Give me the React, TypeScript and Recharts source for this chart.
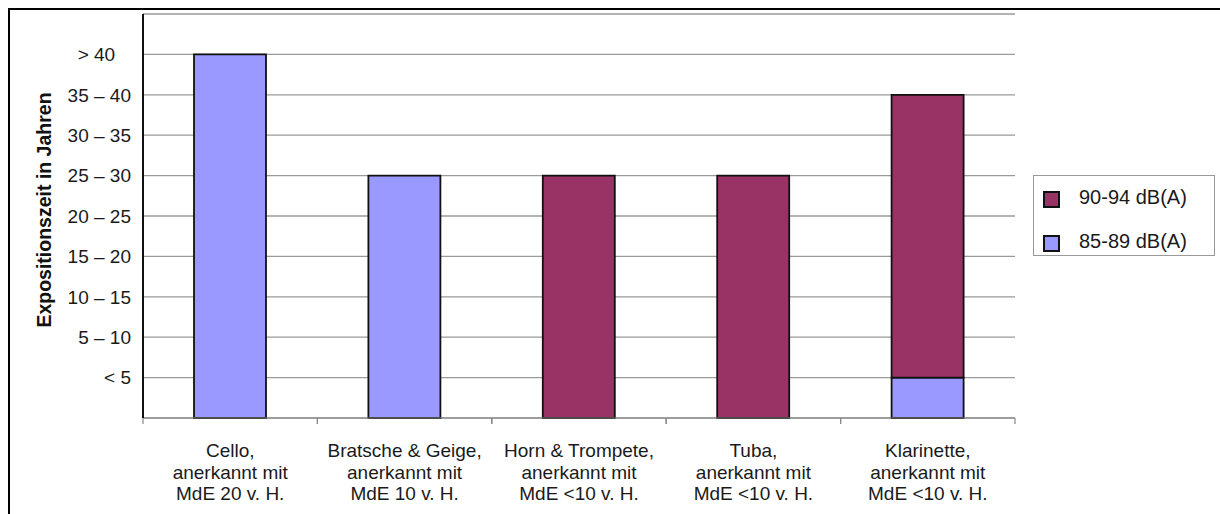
import React from 'react';
import { BarChart, Bar, XAxis, YAxis, CartesianGrid, Legend } from 'recharts';

// Instrument groups (x categories), one line of the label per entry
const categories = [
  'Cello,|anerkannt mit|MdE 20 v. H.',
  'Bratsche & Geige,|anerkannt mit|MdE 10 v. H.',
  'Horn & Trompete,|anerkannt mit|MdE <10 v. H.',
  'Tuba,|anerkannt mit|MdE <10 v. H.',
  'Klarinette,|anerkannt mit|MdE <10 v. H.',
];

// Exposure time expressed as number of 5-year bands
const series8589 = [9, 6, 0, 0, 1];
const series9094 = [0, 0, 6, 6, 7];

// Label for each band boundary (0 … 10)
const yTickLabels = ['', '< 5', '5 – 10', '10 – 15', '15 – 20', '20 – 25', '25 – 30', '30 – 35', '35 – 40', '> 40\u00A0\u00A0\u00A0', ''];
const yTicks = [0, 1, 2, 3, 4, 5, 6, 7, 8, 9, 10];

const COLOR_8589 = '#9999FF';
const COLOR_9094 = '#993366';
const FONT = '"Liberation Sans", Arial, Helvetica, sans-serif';

const data = categories.map((name, i) => ({
  name,
  low: series8589[i],
  high: series9094[i],
}));

const CHART_W = 1210;
const CHART_H = 504;
const MARGIN = { top: 4, right: 205, left: 0, bottom: 0 };
const Y_AXIS_W = 133;
const X_AXIS_H = 96;
const BAND = (CHART_W - MARGIN.left - MARGIN.right - Y_AXIS_W) / categories.length;

const XTick = (props: any) => {
  const { x, y, payload } = props;
  const lines = String(payload.value).split('|');
  return (
    <g>
      <line x1={x - BAND / 2} x2={x - BAND / 2} y1={y} y2={y + 6} stroke="#888" strokeWidth={1.2} />
      <line x1={x + BAND / 2} x2={x + BAND / 2} y1={y} y2={y + 6} stroke="#888" strokeWidth={1.2} />
      <text x={x} y={y + 39} textAnchor="middle" fontSize={19} fontFamily={FONT} fill="#1a1a1a">
        {lines.map((l, i) => (
          <tspan key={i} x={x} dy={i === 0 ? 0 : 21.5}>
            {l}
          </tspan>
        ))}
      </text>
    </g>
  );
};

const LegendBox = (props: any) => {
  const items = [...(props.payload || [])].reverse();
  return (
    <div
      style={{
        width: 180,
        height: 79,
        border: '1px solid #999',
        background: '#fff',
        position: 'relative',
        fontFamily: FONT,
      }}
    >
      {items.map((it: any, i: number) => (
        <div key={it.value} style={{ position: 'absolute', left: 0, top: 11 + i * 44, height: 24, width: 180 }}>
          <div
            style={{
              position: 'absolute',
              left: 9,
              top: 4,
              width: 13,
              height: 13,
              background: it.color,
              border: '2px solid #111',
            }}
          />
          <div
            style={{
              position: 'absolute',
              left: 45,
              top: -2,
              fontSize: 20,
              lineHeight: '24px',
              color: '#1a1a1a',
              whiteSpace: 'nowrap',
            }}
          >
            {it.value}
          </div>
        </div>
      ))}
    </div>
  );
};

export default function App() {
  return (
    <div
      style={{
        position: 'absolute',
        left: 8,
        top: 8,
        width: 1212,
        height: 506,
        borderTop: '2px solid #000',
        borderLeft: '2px solid #000',
        boxSizing: 'border-box',
        overflow: 'hidden',
        background: '#fff',
      }}
    >
      <BarChart width={CHART_W} height={CHART_H} data={data} margin={MARGIN} barSize={72}>
        <CartesianGrid vertical={false} stroke="#9a9a9a" strokeWidth={1.3} />
        <XAxis
          dataKey="name"
          height={X_AXIS_H}
          axisLine={{ stroke: '#888', strokeWidth: 1.2 }}
          tickLine={false}
          tickSize={0}
          tickMargin={0}
          interval={0}
          tick={<XTick />}
        />
        <YAxis
          type="number"
          domain={[0, 10]}
          ticks={yTicks}
          width={Y_AXIS_W}
          axisLine={{ stroke: '#111', strokeWidth: 2 }}
          tickLine={false}
          tickSize={0}
          tickMargin={12}
          interval={0}
          tickFormatter={(v: number) => yTickLabels[v] ?? ''}
          tick={{ fontSize: 19, fill: '#1a1a1a', fontFamily: FONT }}
          label={{
            content: () => (
              <text
                x={34}
                y={200}
                transform="rotate(-90 34 200)"
                textAnchor="middle"
                dominantBaseline="central"
                fontSize={19.5}
                fontWeight="bold"
                fontFamily={FONT}
                fill="#111"
              >
                Expositionszeit in Jahren
              </text>
            ),
          }}
        />
        <Legend
          layout="vertical"
          align="center"
          verticalAlign="middle"
          content={<LegendBox />}
          wrapperStyle={{ position: 'absolute', left: 1023, top: 165, width: 182, height: 81 }}
        />
        <Bar dataKey="low" name="85-89 dB(A)" stackId="a" fill={COLOR_8589} stroke="#111" strokeWidth={1.8} isAnimationActive={false} />
        <Bar dataKey="high" name="90-94 dB(A)" stackId="a" fill={COLOR_9094} stroke="#111" strokeWidth={1.8} isAnimationActive={false} />
      </BarChart>
    </div>
  );
}
